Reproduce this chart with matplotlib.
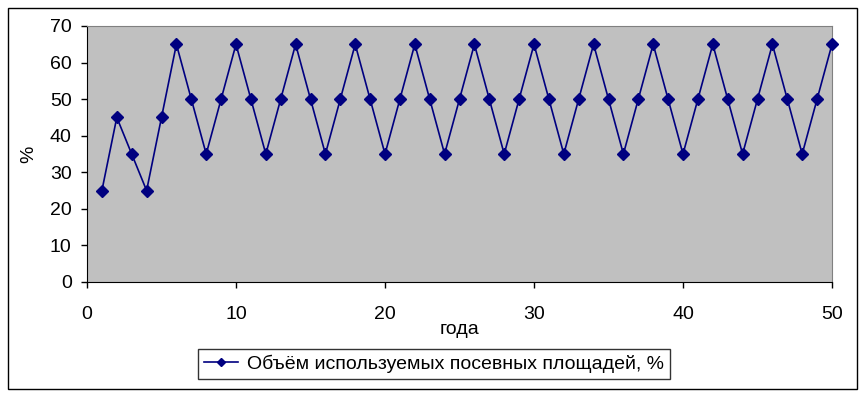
import numpy as np
import matplotlib
matplotlib.use("Agg")
from matplotlib import pyplot as plt
from matplotlib.patches import Rectangle

plt.rcParams['font.family'] = ['Liberation Sans', 'DejaVu Sans']

# данные с графика
years = list(range(1, 51))
area = [25, 45, 35, 25, 45,
        65, 50, 35, 50, 65, 50, 35, 50, 65, 50, 35, 50, 65, 50, 35, 50,
        65, 50, 35, 50, 65, 50, 35, 50, 65, 50, 35, 50, 65, 50, 35, 50,
        65, 50, 35, 50, 65, 50, 35, 50, 65, 50, 35, 50, 65]
x_ticks = [0, 10, 20, 30, 40, 50]
y_ticks = [0, 10, 20, 30, 40, 50, 60, 70]
series_name = 'Объём используемых посевных площадей, %'

fig = plt.figure(figsize=(8.65, 3.97), dpi=100)
fig.patch.set_facecolor('white')

# рамка вокруг всей диаграммы
fig.patches.append(Rectangle((8/865, 1 - 389/397), 849/865, 381/397,
                             transform=fig.transFigure, fill=False,
                             edgecolor='black', linewidth=1))

ax = fig.add_axes([87/865, 1 - 282/397, 745/865, 256/397])
ax.set_facecolor('#c0c0c0')
ax.plot(years, area, color='#000080', linewidth=1.2, marker='D', markersize=6,
        markerfacecolor='#000080', markeredgecolor='#000080',
        label=series_name, clip_on=False, zorder=3)

ax.set_xlim(0, 50)
ax.set_ylim(0, 70)
ax.set_xticks(x_ticks)
ax.set_yticks(y_ticks)
ax.tick_params(direction='out', length=4, width=1, labelsize=14, colors='black')
ax.tick_params(axis='y', pad=7)
ax.tick_params(axis='x', pad=13)

for s in ['top', 'right']:
    ax.spines[s].set_color('#808080')
for s in ['left', 'bottom']:
    ax.spines[s].set_color('black')

ax.set_xlabel('года', fontsize=14, labelpad=-1)
ax.set_ylabel('%', fontsize=14, labelpad=9)

leg = fig.legend(loc='center', bbox_to_anchor=(434/865, 1 - 364/397), fontsize=14,
                 frameon=True, fancybox=False, edgecolor='black',
                 handlelength=1.75, handletextpad=0.5, borderpad=0.3,
                 borderaxespad=0)
leg.get_frame().set_linewidth(1)
leg.legend_handles[0].set_markersize(4.5)

plt.savefig('out.png', dpi=100)
